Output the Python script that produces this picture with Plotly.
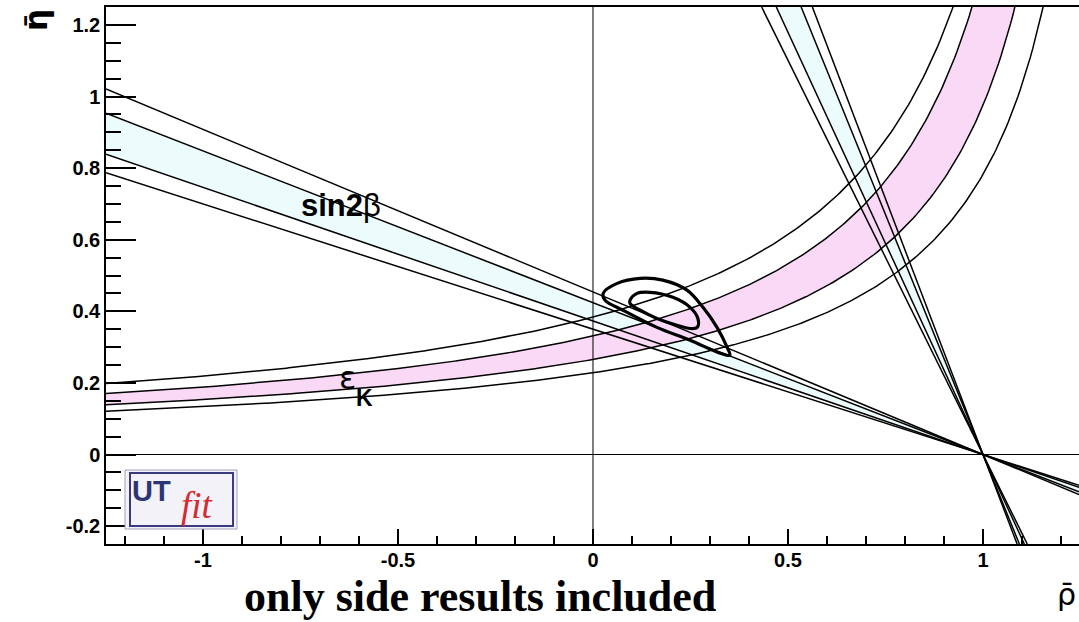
import numpy as np
import plotly.graph_objects as go

# ---- axis ranges -------------------------------------------------------
RHO_RANGE = [-1.2487, 1.2462]
ETA_RANGE = [-0.25, 1.25]

# ---- sin2beta constraint: tan(beta) of the four band edges through (1, 0)
# outer edge, inner edge, inner edge, outer edge
tan_beta = [0.454, 0.424, 0.373, 0.350]

# ---- epsilon_K constraint: hyperbolae eta = a / (b - rho)
epsk_a = [0.511, 0.4372, 0.3647, 0.3221]
epsk_b = [1.332, 1.3218, 1.3738, 1.4117]

# ---- fit probability contours (rho, eta) --------------------------------
c95_rho = [0.026, 0.062, 0.121, 0.179, 0.241, 0.282, 0.318, 0.344, 0.351,
           0.326, 0.249, 0.164, 0.077, 0.031, 0.026]
c95_eta = [0.450, 0.478, 0.492, 0.487, 0.459, 0.411, 0.355, 0.299, 0.277,
           0.283, 0.319, 0.355, 0.403, 0.431, 0.450]
c68_rho = [0.095, 0.113, 0.146, 0.205, 0.249, 0.269, 0.267, 0.249, 0.215,
           0.164, 0.121, 0.095, 0.095]
c68_eta = [0.431, 0.450, 0.453, 0.439, 0.411, 0.380, 0.355, 0.352, 0.361,
           0.380, 0.403, 0.422, 0.431]

# ---- tick labels --------------------------------------------------------
x_tickvals = [-1, -0.5, 0, 0.5, 1]
x_ticktext = ["-1", "-0.5", "0", "0.5", "1"]
y_tickvals = [-0.2, 0, 0.2, 0.4, 0.6, 0.8, 1.0, 1.2]
y_ticktext = ["-0.2", "0", "0.2", "0.4", "0.6", "0.8", "1", "1.2"]

CYAN = "#ecfbfc"
PINK = "#f9d9f5"
W, H = 1079, 622
ML, MR, MT, MB = 106, 0, 7, 78
PW, PH = W - ML - MR, H - MT - MB


def px(xp, yp):
    """pixel position -> paper coordinates"""
    return (xp - ML) / PW, (H - MB - yp) / PH


fig = go.Figure()

# shallow sin2beta lines and the steep (pi/2 - beta) solution
rho_line = np.array(RHO_RANGE)
eta_line = np.array(ETA_RANGE)
shallow = [(rho_line, t * (1 - rho_line)) for t in tan_beta]
steep = [(1 - eta_line * t, eta_line) for t in tan_beta]

# epsilon_K curves
rho_grid = np.linspace(RHO_RANGE[0], RHO_RANGE[1], 400)
epsk = [(rho_grid, a / (b - rho_grid)) for a, b in zip(epsk_a, epsk_b)]

# filled inner bands
for band in (shallow, steep):
    (x1, y1), (x2, y2) = band[1], band[2]
    fig.add_trace(go.Scatter(
        x=np.concatenate([x1, x2[::-1]]), y=np.concatenate([y1, y2[::-1]]),
        fill="toself", fillcolor=CYAN, line=dict(width=0), mode="lines",
        hoverinfo="skip"))
(x1, y1), (x2, y2) = epsk[1], epsk[2]
fig.add_trace(go.Scatter(
    x=np.concatenate([x1, x2[::-1]]), y=np.concatenate([y1, y2[::-1]]),
    fill="toself", fillcolor=PINK, line=dict(width=0), mode="lines",
    hoverinfo="skip"))

# band edges
for x, y in shallow + steep + epsk:
    fig.add_trace(go.Scatter(x=x, y=y, mode="lines",
                             line=dict(color="black", width=1.5),
                             hoverinfo="skip"))

# probability contours
for cx, cy in ((c95_rho, c95_eta), (c68_rho, c68_eta)):
    fig.add_trace(go.Scatter(x=cx, y=cy, mode="lines",
                             line=dict(color="black", width=3.2, shape="spline",
                                       smoothing=1.0),
                             hoverinfo="skip"))

# zero lines on top of the fills
fig.add_shape(type="line", xref="x", yref="paper", x0=0, x1=0, y0=0, y1=1,
              line=dict(color="black", width=1), layer="above")
fig.add_shape(type="line", xref="paper", yref="y", x0=0, x1=1, y0=0, y1=0,
              line=dict(color="black", width=1), layer="above")

# UTfit logo
x0, y0 = px(125, 529)
x1, y1 = px(237, 470)
fig.add_shape(type="rect", xref="paper", yref="paper", x0=x0, y0=y0, x1=x1, y1=y1,
              fillcolor="#f4f2f9", line=dict(color="#a0a0c0", width=1),
              layer="above")
x0, y0 = px(130, 526)
x1, y1 = px(233, 473)
fig.add_shape(type="rect", xref="paper", yref="paper", x0=x0, y0=y0, x1=x1, y1=y1,
              fillcolor="rgba(0,0,0,0)", line=dict(color="#3a3a80", width=2),
              layer="above")

annotations = []


def note(text, xp, yp, size, family="Liberation Sans", color="black",
         weight="normal", style="normal", angle=0, xanchor="center"):
    ax, ay = px(xp, yp)
    annotations.append(dict(
        text=text, x=ax, y=ay, xref="paper", yref="paper", showarrow=False,
        xanchor=xanchor, yanchor="middle", textangle=angle,
        font=dict(size=size, family=family, color=color, weight=weight,
                  style=style)))


note("UT", 151, 491, 29, color="#2b3675", weight="bold")
note("fit", 197, 505, 37, family="Liberation Serif", color="#d42a30",
     style="italic")
note("<b>sin2</b>β", 341, 205, 31)
note("ε", 347, 378, 32, family="DejaVu Sans")
note("K", 364, 398, 23, weight="bold")
note("only side results included", 480, 596, 44, family="Liberation Serif",
     weight="bold")
note("ρ̄", 1078, 594, 30, family="DejaVu Sans", xanchor="right")
note("η̄", 36, 20, 31, family="DejaVu Sans", angle=-90, weight="bold")

tickfont = dict(family="Liberation Sans", size=20, color="black", weight="bold")
fig.update_layout(
    width=W, height=H,
    margin=dict(l=ML, r=MR, t=MT, b=MB, pad=0),
    paper_bgcolor="white", plot_bgcolor="white",
    showlegend=False,
    annotations=annotations,
    xaxis=dict(range=RHO_RANGE, showgrid=False, zeroline=False,
               showline=True, linecolor="black", linewidth=1.5, mirror=True,
               ticks="inside", ticklen=15, tickwidth=1.5, tickcolor="black",
               tickvals=x_tickvals, ticktext=x_ticktext, tickfont=tickfont,
               ticklabelstandoff=-3,
               minor=dict(dtick=0.1, tick0=0, ticks="inside", ticklen=8,
                          tickwidth=1.5, tickcolor="black", showgrid=False)),
    yaxis=dict(range=ETA_RANGE, showgrid=False, zeroline=False,
               showline=True, linecolor="black", linewidth=1.5, mirror=False,
               ticks="inside", ticklen=30, tickwidth=1.5, tickcolor="black",
               tickvals=y_tickvals, ticktext=y_ticktext, tickfont=tickfont,
               minor=dict(dtick=0.05, tick0=0, ticks="inside", ticklen=15,
                          tickwidth=1.5, tickcolor="black", showgrid=False)),
)

fig.write_html("out.html")
